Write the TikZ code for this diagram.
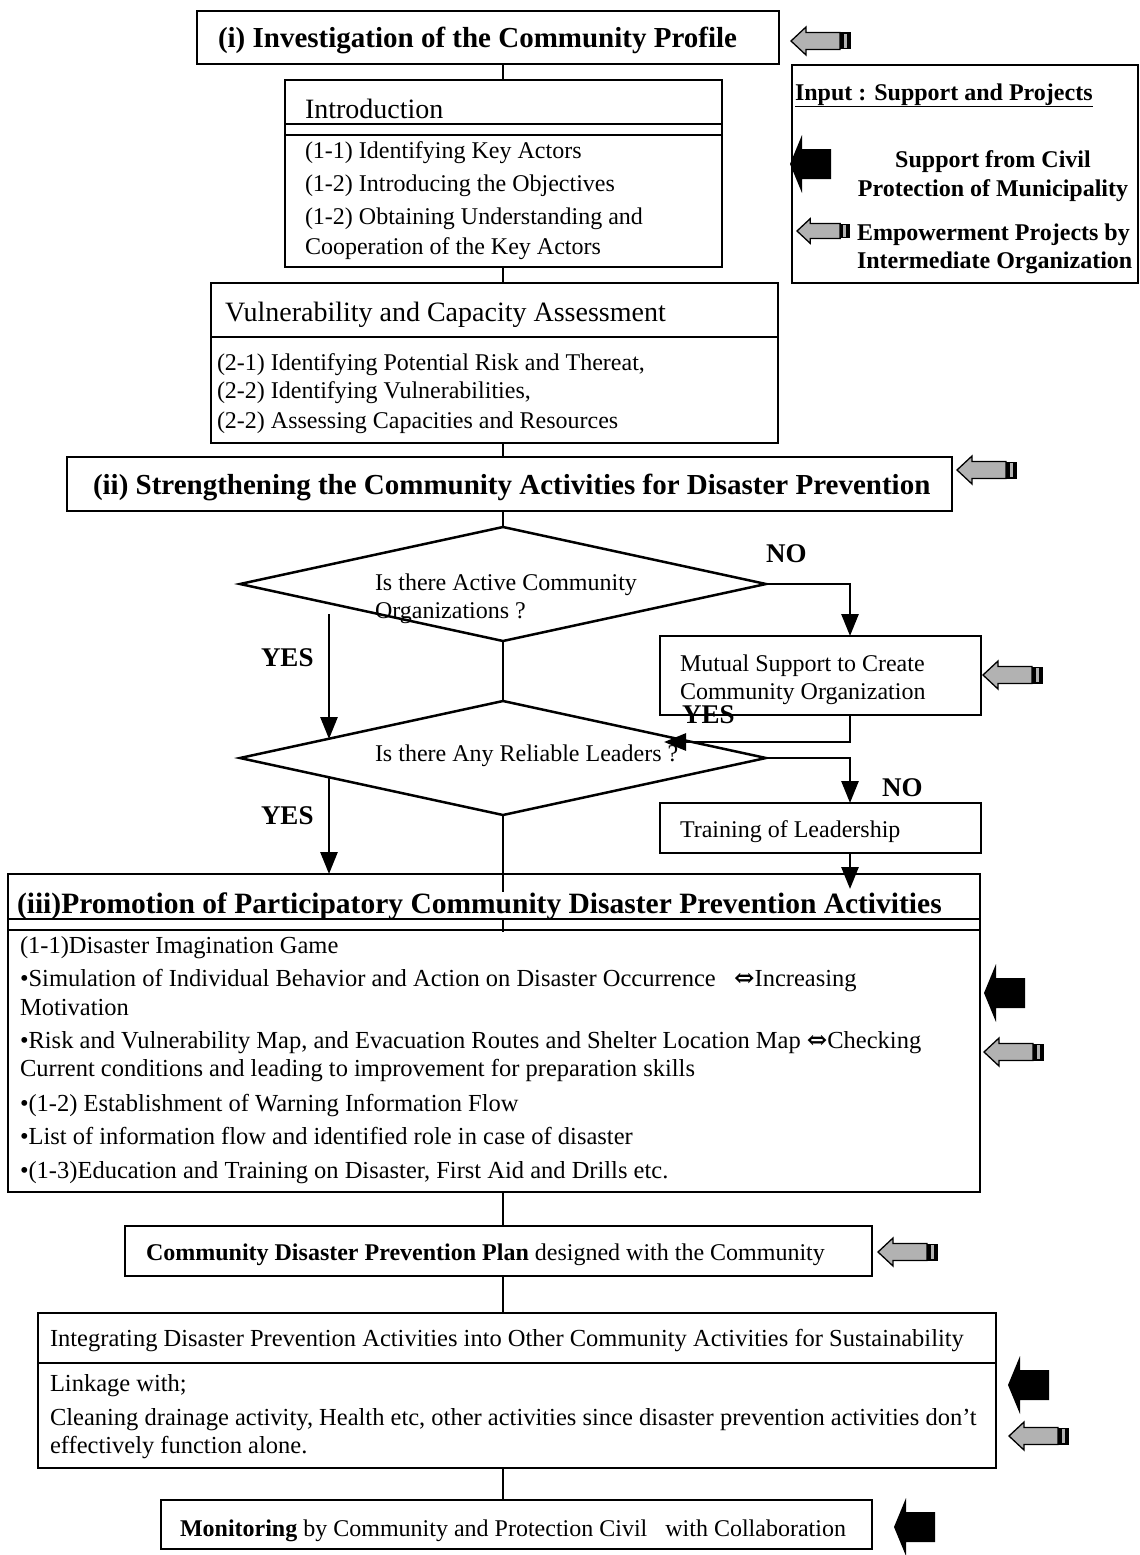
\documentclass[tikz,border=0pt]{standalone}
\usepackage{fontspec}
\setmainfont{Liberation Serif}
\newfontfamily\arrowsym{DejaVu Serif}
\usetikzlibrary{arrows.meta,shapes.geometric}

\begin{document}
\begin{tikzpicture}[x=1pt,y=-1pt,
  frame/.style={draw, rectangle, line width=2.8pt, inner sep=0pt, outer sep=0pt},
  decision/.style={draw, diamond, line width=2.5pt, inner sep=0pt, outer sep=0pt,
    minimum width=526pt, minimum height=114pt},
  conn/.style={line width=2.8pt},
  flow/.style={conn, -{Triangle[width=17pt,length=22pt]}},
  txt/.style={anchor=base west, inner sep=0pt, outer sep=0pt},
  title/.style={txt, font=\fontsize{29}{34}\selectfont\bfseries},
  head/.style={txt, font=\fontsize{28}{32}\selectfont},
  body/.style={txt, font=\fontsize{24}{30}\selectfont},
  widebody/.style={txt, font=\fontsize{24.5}{30}\selectfont},
  answer/.style={txt, font=\fontsize{27}{30}\selectfont\bfseries},
  legendtxt/.style={anchor=base, inner sep=0pt, outer sep=0pt, font=\fontsize{24}{28}\selectfont\bfseries},
  grey input/.pic={
    \filldraw[fill=gray!60, draw=black, line width=1.3pt]
      (0,0) -- (15,-14) -- (15,-8.5) -- (49,-8.5) -- (49,8.5) -- (15,8.5) -- (15,14) -- cycle;
    \fill[black] (49,-8.5) rectangle (60,8.5);
    \fill[gray!60] (52.5,-7) rectangle (56,7);
  },
  black input/.pic={
    \fill[black] (0,0) -- (12,-29) -- (12,-15) -- (41,-15) -- (41,15) -- (12,15) -- (12,29) -- cycle;
  }
]
\fill[white] (0,0) rectangle (1140,1555);
\useasboundingbox (0,0) rectangle (1140,1555);

% reference columns for the connectors
\coordinate (spine) at (503,0);
\coordinate (nocol) at (850,0);

% ---------- (i) community profile ----------
\node[frame, minimum width=582pt, minimum height=53pt] (inv) at (488,37.5) {};
\node[title] (invt) at (218,48) {(i) Investigation of the Community Profile};

\node[frame, minimum width=437pt, minimum height=187pt] (intro) at (503.5,173.5) {};
\draw[conn] (285,124) -- (722,124);
\draw[conn] (285,135) -- (722,135);
\node[head] (introh) at (305,118) {Introduction};
\node[body] (intro1) at (305,158) {(1-1) Identifying Key Actors};
\node[body] (intro2) at (305,191) {(1-2) Introducing the Objectives};
\node[body] (intro3) at (305,224) {(1-2) Obtaining Understanding and};
\node[body] (intro4) at (305,254) {Cooperation of the Key Actors};

\node[frame, minimum width=567pt, minimum height=160pt] (vul) at (494.5,363) {};
\draw[conn] (211,337) -- (778,337);
\node[head] (vulh) at (225,321) {Vulnerability and Capacity Assessment};
\node[body] (vul1) at (217,370) {(2-1) Identifying Potential Risk and Thereat,};
\node[body] (vul2) at (217,398) {(2-2) Identifying Vulnerabilities,};
\node[body] (vul3) at (217,428) {(2-2) Assessing Capacities and Resources};

% ---------- legend ----------
\node[frame, line width=2.4pt, minimum width=346pt, minimum height=218pt] (legend) at (965,174) {};
\node[legendtxt, anchor=base west] (legh) at (795,100) {\underline{Input : Support and Projects}};
\node[legendtxt] (leg1) at (993,167) {Support from Civil};
\node[legendtxt] (leg2) at (993,196) {Protection of Municipality};
\node[legendtxt, anchor=base west] (leg3) at (857,240) {Empowerment Projects by};
\node[legendtxt, anchor=base west] (leg4) at (857,268) {Intermediate Organization};

% ---------- (ii) strengthening ----------
\node[frame, minimum width=885pt, minimum height=54pt] (str) at (509.5,484) {};
\node[title] (strt) at (93,494) {(ii) Strengthening the Community Activities for Disaster Prevention};

% ---------- decisions ----------
\node[decision] (d1) at (503,584) {};
\node[body] (d1a) at (375,590) {Is there Active Community};
\node[body] (d1b) at (375,618) {Organizations ?};

\node[decision] (d2) at (503,758) {};
\node[body] (d2a) at (375,761) {Is there Any Reliable Leaders ?};

\node[frame, minimum width=321pt, minimum height=79pt] (mutual) at (820.5,675.5) {};
\node[body] (mut1) at (680,671) {Mutual Support to Create};
\node[body] (mut2) at (680,699) {Community Organization};

\node[frame, minimum width=321pt, minimum height=50pt] (train) at (820.5,828) {};
\node[body] (train1) at (680,837) {Training of Leadership};

% ---------- (iii) participatory activities ----------
\node[frame, minimum width=972pt, minimum height=318pt] (iii) at (494,1033) {};

% ---------- lower boxes ----------
\node[frame, minimum width=747pt, minimum height=50pt] (cdpp) at (498.5,1251) {};
\node[body] (cdppt) at (146,1260) {\textbf{Community Disaster Prevention Plan} designed with the Community};

\node[frame, minimum width=958pt, minimum height=155pt] (integ) at (517,1390.5) {};
\draw[conn] (38,1363) -- (996,1363);
\node[widebody] (integh) at (50,1346) {Integrating Disaster Prevention Activities into Other Community Activities for Sustainability};
\node[widebody] (integ1) at (50,1391) {Linkage with;};
\node[widebody] (integ2) at (50,1425) {Cleaning drainage activity, Health etc, other activities since disaster prevention activities don’t};
\node[widebody] (integ3) at (50,1453) {effectively function alone.};

\node[frame, minimum width=711pt, minimum height=49pt] (mon) at (516.5,1524.5) {};
\node[body] (mont) at (180,1536) {\textbf{Monitoring} by Community and Protection Civil\ \ \ with Collaboration};

% ---------- main spine ----------
\draw[conn] (inv.south -| spine) -- (intro.north -| spine);
\draw[conn] (intro.south -| spine) -- (vul.north -| spine);
\draw[conn] (vul.south -| spine) -- (str.north -| spine);
\draw[conn] (str.south -| spine) -- (d1.north);
\draw[conn] (d1.south) -- (d2.north);
\coordinate (iiistub) at (503,932);
\draw[conn] (d2.south) -- (iiistub);
\draw[conn] (iii.south -| spine) -- (cdpp.north -| spine);
\draw[conn] (cdpp.south -| spine) -- (integ.north -| spine);
\draw[conn] (integ.south -| spine) -- (mon.north -| spine);

% ---------- branches ----------
\coordinate (leaderin) at (664,742);
\coordinate (trainin) at (850,889);
\coordinate (yes1a) at (329,614);
\coordinate (yes1b) at (329,739);
\coordinate (yes2a) at (329,777);
\draw[flow] (d1.east) -| (nocol |- mutual.north);
\draw[flow] (nocol |- mutual.south) |- (leaderin);
\draw[flow] (d2.east) -| (nocol |- train.north);
\draw[flow] (nocol |- train.south) -- (trainin);
\draw[flow] (yes1a) -- (yes1b);
\draw[flow] (yes2a) -- (yes2a |- iii.north);

\node[answer] (no1) at (766,562) {NO};
\node[answer] (yes1) at (261,666) {YES};
\node[answer] (yes2) at (682,723) {YES};
\node[answer] (no2) at (882,796) {NO};
\node[answer] (yes3) at (261,824) {YES};

% ---------- (iii) contents ----------
\node[title, font=\fontsize{29.5}{34}\selectfont\bfseries, fill=white] (iiit) at (17,913) {(iii)Promotion of Participatory Community Disaster Prevention Activities};
\draw[conn] (8,919) -- (980,919);
\draw[conn] (8,930) -- (980,930);
\node[widebody] (iii1) at (20,953) {(1-1)Disaster Imagination Game};
\node[widebody] (iii2) at (20,986) {•Simulation of Individual Behavior and Action on Disaster Occurrence\ \ \ {\arrowsym\bfseries ⇔}Increasing};
\node[widebody] (iii3) at (20,1015) {Motivation};
\node[widebody] (iii4) at (20,1048) {•Risk and Vulnerability Map, and Evacuation Routes and Shelter Location Map {\arrowsym\bfseries ⇔}Checking};
\node[widebody] (iii5) at (20,1076) {Current conditions and leading to improvement for preparation skills};
\node[widebody] (iii6) at (20,1111) {•(1-2) Establishment of Warning Information Flow};
\node[widebody] (iii7) at (20,1144) {•List of information flow and identified role in case of disaster};
\node[widebody] (iii8) at (20,1178) {•(1-3)Education and Training on Disaster, First Aid and Drills etc.};

% ---------- inputs ----------
\pic at (791,41) {grey input};
\pic[scale=0.88] at (797,231) {grey input};
\pic at (957,470) {grey input};
\pic at (983,675) {grey input};
\pic at (984,1052) {grey input};
\pic at (878,1252) {grey input};
\pic at (1009,1436) {grey input};

\pic at (790,164) {black input};
\pic at (984,993) {black input};
\pic at (1008,1385) {black input};
\pic at (894,1527) {black input};
\end{tikzpicture}
\end{document}
